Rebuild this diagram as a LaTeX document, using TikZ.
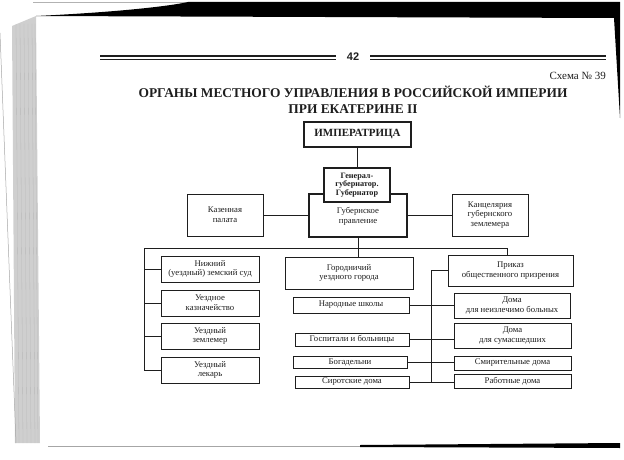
\documentclass[tikz,border=0pt]{standalone}
\usepackage{fontspec}
\setmainfont{Liberation Serif}
\newfontfamily\pagenumfont{Liberation Sans}
\usetikzlibrary{calc}
\definecolor{scanink}{HTML}{1E1E1E}
\definecolor{pageedge}{HTML}{CFCFCF}

\begin{document}
\begin{tikzpicture}[
  x=1pt,
  y=-1pt,
  every node/.style={scanink},
  box/.style={draw=scanink, line width=0.9pt, fill=white, align=center,
              inner sep=1pt, font=\fontsize{8.7}{9.8}\selectfont},
  boldbox/.style={box, line width=1.7pt},
  topbox/.style={box, line width=2.6pt, font=\fontsize{11}{12}\selectfont\bfseries},
  link/.style={scanink, line width=0.8pt},
  rule/.style={scanink, line width=1.6pt}
]
  \useasboundingbox (0,0) rectangle (624,460);

  % ---- scanned page edges ----
  \fill[pageedge] (12,26) -- (36,16) -- (40,443) -- (15,443) -- cycle;
  \foreach \e in {16,20,24,28,32,35}
    \draw[gray!55, line width=0.3pt] (\e,24) -- (\e+3,443);
  \draw[gray!70, line width=0.5pt] (0,33) -- (16,443);
  \draw[gray!60, line width=0.6pt] (33,2) -- (190,2);
  \fill[black] (36,16) .. controls (120,12) and (170,6) .. (188,2)
    -- (620,2) -- (620,118) -- (614,18) -- cycle;
  \fill[black] (360,445) -- (620,443) -- (620,448) -- (360,447) -- cycle;
  \draw[gray!70, line width=0.6pt] (48,446) -- (360,446);

  % ---- page header ----
  \draw[rule] (100,56) -- (336,56);
  \draw[scanink, line width=0.5pt] (100,59) -- (336,59);
  \draw[rule] (370,56) -- (606,56);
  \draw[scanink, line width=0.5pt] (370,59) -- (606,59);
  \node (pagenum) at (353,57) {\pagenumfont\bfseries\fontsize{11}{12}\selectfont 42};
  \node[anchor=east, inner sep=0pt] (schema) at (606,76)
    {\fontsize{11}{12}\selectfont Схема № 39};
  \node[align=center, inner sep=0pt, font=\fontsize{13.4}{15.5}\selectfont\bfseries]
    (title) at (353,100) {ОРГАНЫ МЕСТНОГО УПРАВЛЕНИЯ В РОССИЙСКОЙ ИМПЕРИИ\\ПРИ ЕКАТЕРИНЕ II};

  % ---- top of the scheme ----
  \node[topbox, minimum width=107, minimum height=25] (emp) at (357.5,134.5) {ИМПЕРАТРИЦА};
  \node[boldbox, minimum width=98, minimum height=43, text depth=-6pt] (gub) at (358,215.5)
    {Губернское\\правление};
  \node[boldbox, minimum width=66, minimum height=34,
        font=\fontsize{8.2}{8.8}\selectfont\bfseries] (gen) at (357,185)
    {Генерал-\\губернатор.\\Губернатор};
  \node[box, minimum width=76, minimum height=42] (kaz) at (225,215) {Казенная\\палата};
  \node[box, minimum width=76, minimum height=42] (kanc) at (490,215)
    {Канцелярия\\губернского\\землемера};

  \draw[link] (emp.south) -- (emp.south |- gen.north);
  \draw[link] (kaz.east) -- (kaz.east -| gub.west);
  \draw[link] (gub.east |- kanc.west) -- (kanc.west);

  % ---- district level ----
  \coordinate (busl) at (144,248);
  \coordinate (busr) at (507,248);
  \node[box, minimum width=98, minimum height=26] (nizh) at (210,269)
    {Нижний\\(уездный) земский суд};
  \node[box, minimum width=98, minimum height=26] (kazn) at (210,303)
    {Уездное\\казначейство};
  \node[box, minimum width=98, minimum height=26] (zeml) at (210,336)
    {Уездный\\землемер};
  \node[box, minimum width=98, minimum height=26] (lek) at (210,370)
    {Уездный\\лекарь};
  \node[box, minimum width=128, minimum height=32] (gorod) at (349,273)
    {Городничий\\уездного города};
  \node[box, minimum width=125, minimum height=31] (priz) at (510.5,270.5)
    {Приказ\\общественного призрения};

  \draw[link] (gub.south) -- (gub.south |- gorod.north);
  \draw[link] (busl) -- (busr) -- (busr |- priz.north);
  \draw[link] (busl) -- (busl |- lek.west);
  \foreach \b in {nizh,kazn,zeml,lek}
    \draw[link] (busl |- \b.west) -- (\b.west);

  % ---- institutions of the Prikaz ----
  \node[box, minimum width=116, minimum height=16] (shk) at (351,305) {Народные школы};
  \node[box, minimum width=114, minimum height=13] (gosp) at (352,339.5) {Госпитали и больницы};
  \node[box, minimum width=114, minimum height=12] (bog) at (350,362) {Богадельни};
  \node[box, minimum width=114, minimum height=12] (sir) at (352,382) {Сиротские дома};
  \node[box, minimum width=116, minimum height=25] (neizl) at (512,305.5)
    {Дома\\для неизлечимо больных};
  \node[box, minimum width=117, minimum height=25] (sumas) at (512.5,335.5)
    {Дома\\для сумасшедших};
  \node[box, minimum width=117, minimum height=14] (smir) at (512.5,363) {Смирительные дома};
  \node[box, minimum width=117, minimum height=14] (rab) at (512.5,381) {Работные дома};

  \coordinate (spine) at (431,0);
  \draw[link] (priz.west) -- (spine |- priz.west) -- (spine |- sir.east);
  \draw[link] (shk.east) -- (shk.east -| neizl.west);
  \draw[link] (gosp.east) -- (gosp.east -| sumas.west);
  \draw[link] (bog.east) -- (bog.east -| smir.west);
  \draw[link] (sir.east) -- (sir.east -| rab.west);
\end{tikzpicture}
\end{document}
